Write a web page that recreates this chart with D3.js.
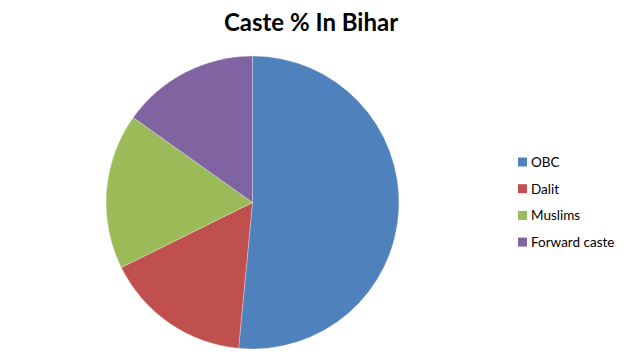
<!DOCTYPE html>
<html>
<head>
<meta charset="utf-8">
<script src="https://cdn.jsdelivr.net/npm/d3@7"></script>
<style>
  body { margin: 0; background: #fff; }
  text { font-family: Lato, "Open Sans", sans-serif; }
</style>
</head>
<body>
<script>
// caste share
var categories = ["OBC", "Dalit", "Muslims", "Forward caste"];
var values = [51, 16, 17, 15];
var colors = ["#4F81BD", "#C0504D", "#9BBB59", "#8064A2"];

var w = 624, h = 361;
var svg = d3.select("body").append("svg")
    .attr("width", w)
    .attr("height", h);

// title
svg.append("text")
    .attr("x", 311)
    .attr("y", 31)
    .attr("text-anchor", "middle")
    .style("font-size", "24px")
    .style("font-weight", "bold")
    .text("Caste % In Bihar");

var data = categories.map(function(c, i){
    return {name: c, value: values[i]};
});

var pie = d3.pie()
    .sort(null)
    .value(function(d){ return d.value; });

var arc = d3.arc()
    .innerRadius(0)
    .outerRadius(146.5);

var color = d3.scaleOrdinal()
    .domain(categories)
    .range(colors);

var g = svg.append("g")
    .attr("transform", "translate(252.5,202.5)");

g.selectAll(".slice")
    .data(pie(data))
    .enter()
    .append("path")
    .attr("class", "slice")
    .attr("d", arc)
    .style("fill", function(d){ return color(d.data.name); })
    .style("stroke", "#fff")
    .style("stroke-width", 0.3);

// legend
var legend = svg.selectAll(".legend")
    .data(categories)
    .enter()
    .append("g")
    .attr("class", "legend")
    .attr("transform", function(d, i){
        return "translate(518," + (162 + i * 26.7) + ")";
    });

legend.append("rect")
    .attr("x", 0)
    .attr("y", -4.5)
    .attr("width", 9)
    .attr("height", 9)
    .style("fill", function(d){ return color(d); });

legend.append("text")
    .attr("x", 13)
    .attr("y", 5)
    .style("font-size", "13.5px")
    .text(function(d){ return d; });
</script>
</body>
</html>
